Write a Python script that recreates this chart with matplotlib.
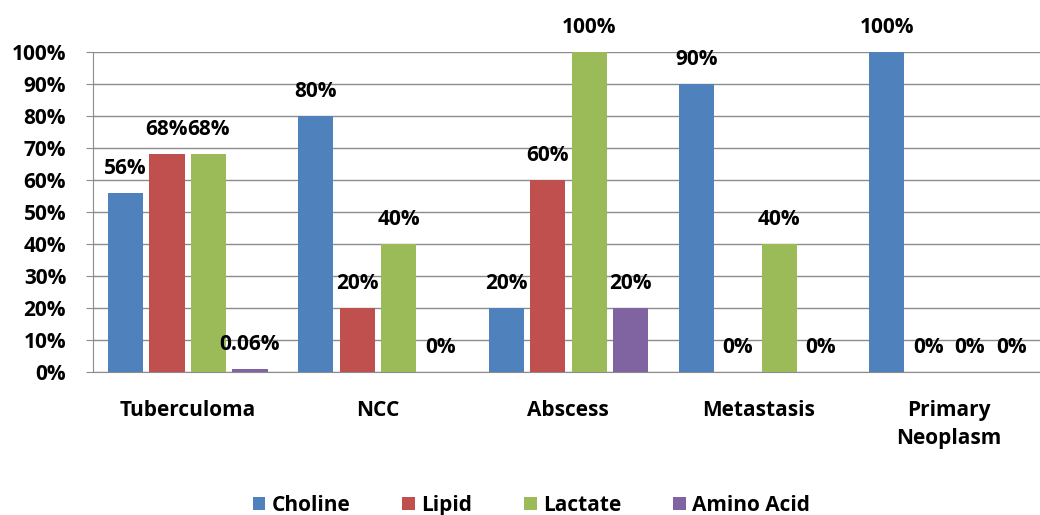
import matplotlib.pyplot as plt
import numpy as np

categories = ["Tuberculoma", "NCC", "Abscess", "Metastasis", "Primary\nNeoplasm"]
series = ["Choline", "Lipid", "Lactate", "Amino Acid"]
choline = [56, 80, 20, 90, 100]
lipid = [68, 20, 60, 0, 0]
lactate = [68, 40, 100, 40, 0]
amino_acid = [1, 0, 20, 0, 0]
# printed labels (the tuberculoma amino acid bar is labelled 0.06%)
choline_labels = ["56%", "80%", "20%", "90%", "100%"]
lipid_labels = ["68%", "20%", "60%", "0%", "0%"]
lactate_labels = ["68%", "40%", "100%", "40%", "0%"]
amino_labels = ["0.06%", "0%", "20%", "0%", "0%"]

colors = ["#4F81BD", "#C0504D", "#9BBB59", "#8064A2"]
font = ["Open Sans", "DejaVu Sans"]
fsize = 15

fig = plt.figure(figsize=(10.4, 5.15), dpi=100)
ax = fig.add_axes([0.089, 0.278, 0.915, 0.621])

x = np.arange(len(categories))
step = 0.218
width = 0.185
data = [choline, lipid, lactate, amino_acid]
labels = [choline_labels, lipid_labels, lactate_labels, amino_labels]

for i, (vals, labs) in enumerate(zip(data, labels)):
    pos = x + (i - 1.5) * step
    ax.bar(pos, vals, width, color=colors[i], label=series[i], zorder=3)
    for px, v, t in zip(pos, vals, labs):
        ax.annotate(t, (px, v), xytext=(0, 10), textcoords="offset points",
                    ha="center", va="bottom", fontsize=fsize, fontweight="bold",
                    family=font, zorder=4)

ax.set_xlim(-0.5, 4.5)
ax.set_ylim(0, 100)
ax.set_yticks(range(0, 101, 10))
ax.set_yticklabels([f"{v}%" for v in range(0, 101, 10)])
ax.set_xticks(x)
ax.set_xticklabels(categories, linespacing=1.45)
ax.yaxis.grid(True, color="#8c8c8c", linewidth=1, zorder=0)
ax.tick_params(axis="y", length=5, color="#8c8c8c", pad=14)
ax.tick_params(axis="x", length=0, pad=20)
for lab in ax.get_xticklabels() + ax.get_yticklabels():
    lab.set_fontsize(fsize)
    lab.set_fontweight("bold")
    lab.set_family(font)

for s in ["top", "right"]:
    ax.spines[s].set_visible(False)
for s in ["left", "bottom"]:
    ax.spines[s].set_color("#8c8c8c")

leg = ax.legend(loc="lower center", bbox_to_anchor=(0.461, -0.51), ncol=4,
                frameon=False, handlelength=0.6, handleheight=0.6,
                handletextpad=0.3, columnspacing=2.5,
                prop=dict(family=font, weight="bold", size=fsize))

fig.savefig("out.png", dpi=100)
